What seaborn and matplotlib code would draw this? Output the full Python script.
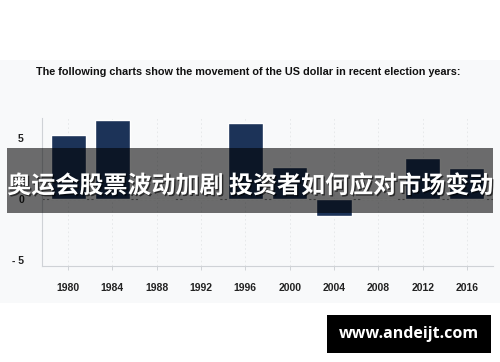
import numpy as np
import pandas as pd
import matplotlib
matplotlib.use("Agg")
import matplotlib.pyplot as plt
import matplotlib.patheffects as pe
from matplotlib.patches import Rectangle
import seaborn as sns

# ---- data ----
years = ["1980", "1984", "1988", "1992", "1996", "2000", "2004", "2008", "2012", "2016"]
changes = [5.2, 6.4, 0.0, 0.0, 6.2, 2.6, -1.4, 0.0, 3.3, 2.5]
yticks = [-5, 0, 5]
yticklabels = ["- 5", "0", "5"]
title = "The following charts show the movement of the US dollar in recent election years:"
banner = "奥运会股票波动加剧 投资者如何应对市场变动"
watermark = "www.andeijt.com"

sns.set_theme(style="white")
plt.rcParams['font.family'] = ['Liberation Sans', 'DejaVu Sans']

W, H = 500, 362
fig = plt.figure(figsize=(W / 100, H / 100), dpi=100, facecolor="white")

def fx(x):
    return x / W

def fy(y):
    return (H - y) / H

# light panel
fig.patches.append(Rectangle((0, fy(303)), 1, (303 - 60) / H, transform=fig.transFigure,
                             facecolor="#f8f9fa", edgecolor="none", zorder=-1))

ax = fig.add_axes([fx(42), fy(266), (493 - 42) / W, (266 - 118) / H])
ax.set_facecolor("#f8f9fa")

df = pd.DataFrame({"year": years, "change": changes})
sns.barplot(data=df, x="year", y="change", order=years, color="#1c3358",
            saturation=1, width=0.79, ax=ax, zorder=3)

ax.set_xlim(-0.587, 9.587)
ax.set_ylim(-5.5, 6.6)
ax.set_xlabel("")
ax.set_ylabel("")

# grid and zero line
for i in range(len(years)):
    ax.axvline(i, color="#e4e6e8", lw=0.6, ls=(0, (2, 3)), zorder=1)
ax.axhline(0, color="#8a8a8a", lw=0.8, ls=(0, (2, 2)), zorder=2)

for s in ["top", "right"]:
    ax.spines[s].set_visible(False)
for s in ["left", "bottom"]:
    ax.spines[s].set_color("#cfd2d6")
    ax.spines[s].set_linewidth(0.8)

ax.set_yticks(yticks)
ax.set_yticklabels(yticklabels)
ax.tick_params(axis="y", length=4, width=0.7, color="#cfd2d6", pad=9,
               labelsize=7.5, labelcolor="#222222")
ax.tick_params(axis="x", length=3, width=0.7, color="#cfd2d6", pad=9,
               labelsize=7.5, labelcolor="#222222", bottom=True)
for lab in ax.get_xticklabels() + ax.get_yticklabels():
    lab.set_fontweight("bold")

# title
fig.text(fx(248), fy(72), title, ha="center", va="center", fontsize=7.8,
         fontweight="bold", color="#111111")

# banner overlay
fig.patches.append(Rectangle((fx(7), fy(213)), 486 / W, 65 / H, transform=fig.transFigure,
                             facecolor="black", alpha=0.57, edgecolor="none", zorder=5))
fig.text(0.5, fy(186), banner, ha="center", va="center", fontsize=17.3, color="white",
         fontweight="bold", family=["Noto Sans CJK SC", "DejaVu Sans"], zorder=6,
         path_effects=[pe.withSimplePatchShadow(offset=(1, -1), shadow_rgbFace="black", alpha=0.6)])

# watermark
fig.patches.append(Rectangle((fx(327), fy(353)), 164 / W, 38 / H, transform=fig.transFigure,
                             facecolor="black", edgecolor="none", zorder=5))
fig.text(fx(409), fy(334), watermark, ha="center", va="center", fontsize=11.5,
         color="white", fontweight="bold", family=["Open Sans", "DejaVu Sans"], zorder=6)

fig.savefig("out.png", dpi=100, facecolor="white")
